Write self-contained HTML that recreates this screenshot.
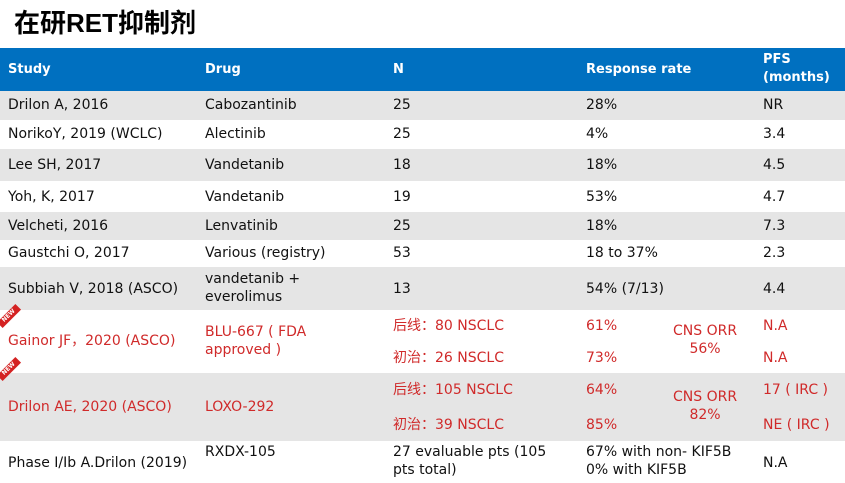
<!DOCTYPE html>
<html><head><meta charset="utf-8"><style>
*{margin:0;padding:0;box-sizing:border-box}
body{width:845px;height:483px;background:#fff;position:relative;overflow:hidden;font-family:"DejaVu Sans","Noto Sans CJK SC",sans-serif;font-size:14px;color:#111}
.t{position:absolute;left:14px;top:3px;font-family:"Liberation Sans","Noto Sans CJK SC",sans-serif;font-weight:bold;font-size:26px;color:#000}
.r{position:absolute;left:0;width:845px}
.g{background:#e5e5e5}
.h{background:#0070c0;color:#fff;font-weight:bold;font-size:13px}
.c{position:absolute;white-space:nowrap;line-height:18px}
.red{color:#d02a2a}
.new{position:absolute;width:26px;height:8px;background:#d42222;transform:rotate(-45deg);color:#fff;font-size:6px;line-height:8px;text-align:center;font-weight:bold}
</style></head><body>
<div class="t">在研RET抑制剂</div>
<div class="r h" style="top:48px;height:43px">
<div class="c" style="left:8px;top:13px">Study</div>
<div class="c" style="left:205px;top:13px">Drug</div>
<div class="c" style="left:393px;top:13px">N</div>
<div class="c" style="left:586px;top:13px">Response rate</div>
<div class="c" style="left:763px;top:3px">PFS<br>(months)</div>
</div>
<div class="r g" style="top:91px;height:29px">
<div class="c" style="left:8px;top:5px">Drilon A, 2016</div><div class="c" style="left:205px;top:5px">Cabozantinib</div><div class="c" style="left:393px;top:5px">25</div><div class="c" style="left:586px;top:5px">28%</div><div class="c" style="left:763px;top:5px">NR</div></div>
<div class="r" style="top:120px;height:29px">
<div class="c" style="left:8px;top:5px">NorikoY, 2019 (WCLC)</div><div class="c" style="left:205px;top:5px">Alectinib</div><div class="c" style="left:393px;top:5px">25</div><div class="c" style="left:586px;top:5px">4%</div><div class="c" style="left:763px;top:5px">3.4</div></div>
<div class="r g" style="top:149px;height:32px">
<div class="c" style="left:8px;top:7px">Lee SH, 2017</div><div class="c" style="left:205px;top:7px">Vandetanib</div><div class="c" style="left:393px;top:7px">18</div><div class="c" style="left:586px;top:7px">18%</div><div class="c" style="left:763px;top:7px">4.5</div></div>
<div class="r" style="top:181px;height:31px">
<div class="c" style="left:8px;top:7px">Yoh, K, 2017</div><div class="c" style="left:205px;top:7px">Vandetanib</div><div class="c" style="left:393px;top:7px">19</div><div class="c" style="left:586px;top:7px">53%</div><div class="c" style="left:763px;top:7px">4.7</div></div>
<div class="r g" style="top:212px;height:28px">
<div class="c" style="left:8px;top:5px">Velcheti, 2016</div><div class="c" style="left:205px;top:5px">Lenvatinib</div><div class="c" style="left:393px;top:5px">25</div><div class="c" style="left:586px;top:5px">18%</div><div class="c" style="left:763px;top:5px">7.3</div></div>
<div class="r" style="top:240px;height:27px">
<div class="c" style="left:8px;top:4px">Gaustchi O, 2017</div><div class="c" style="left:205px;top:4px">Various (registry)</div><div class="c" style="left:393px;top:4px">53</div><div class="c" style="left:586px;top:4px">18 to 37%</div><div class="c" style="left:763px;top:4px">2.3</div></div>
<div class="r g" style="top:267px;height:43px">
<div class="c" style="left:8px;top:13px">Subbiah V, 2018 (ASCO)</div><div class="c" style="left:205px;top:3px">vandetanib +<br>everolimus</div><div class="c" style="left:393px;top:13px">13</div><div class="c" style="left:586px;top:13px">54% (7/13)</div><div class="c" style="left:763px;top:13px">4.4</div></div>
<div class="r red" style="top:310px;height:63px">
<div class="c" style="left:8px;top:22px">Gainor JF，2020 (ASCO)</div><div class="c" style="left:205px;top:13px">BLU-667 ( FDA<br>approved )</div>
<div class="c" style="left:393px;top:7px">后线：80 NSCLC</div><div class="c" style="left:393px;top:39px">初治：26 NSCLC</div>
<div class="c" style="left:586px;top:7px">61%</div><div class="c" style="left:586px;top:39px">73%</div>
<div class="c" style="left:673px;top:12px;text-align:center">CNS ORR<br>56%</div>
<div class="c" style="left:763px;top:7px">N.A</div><div class="c" style="left:763px;top:39px">N.A</div></div>
<div class="r g red" style="top:373px;height:68px">
<div class="c" style="left:8px;top:25px">Drilon AE, 2020 (ASCO)</div><div class="c" style="left:205px;top:25px">LOXO-292</div>
<div class="c" style="left:393px;top:8px">后线：105 NSCLC</div><div class="c" style="left:393px;top:43px">初治：39 NSCLC</div>
<div class="c" style="left:586px;top:8px">64%</div><div class="c" style="left:586px;top:43px">85%</div>
<div class="c" style="left:673px;top:15px;text-align:center">CNS ORR<br>82%</div>
<div class="c" style="left:763px;top:8px">17 ( IRC )</div><div class="c" style="left:763px;top:43px">NE ( IRC )</div></div>
<div class="r" style="top:441px;height:42px">
<div class="c" style="left:8px;top:13px">Phase I/Ib A.Drilon (2019)</div><div class="c" style="left:205px;top:2px">RXDX-105</div>
<div class="c" style="left:393px;top:2px">27 evaluable pts (105<br>pts total)</div>
<div class="c" style="left:586px;top:2px">67% with non- KIF5B<br>0% with KIF5B</div><div class="c" style="left:763px;top:13px">N.A</div></div>
<div class="new" style="left:-4px;top:312px">NEW</div>
<div class="new" style="left:-4px;top:365px">NEW</div>
</body></html>
